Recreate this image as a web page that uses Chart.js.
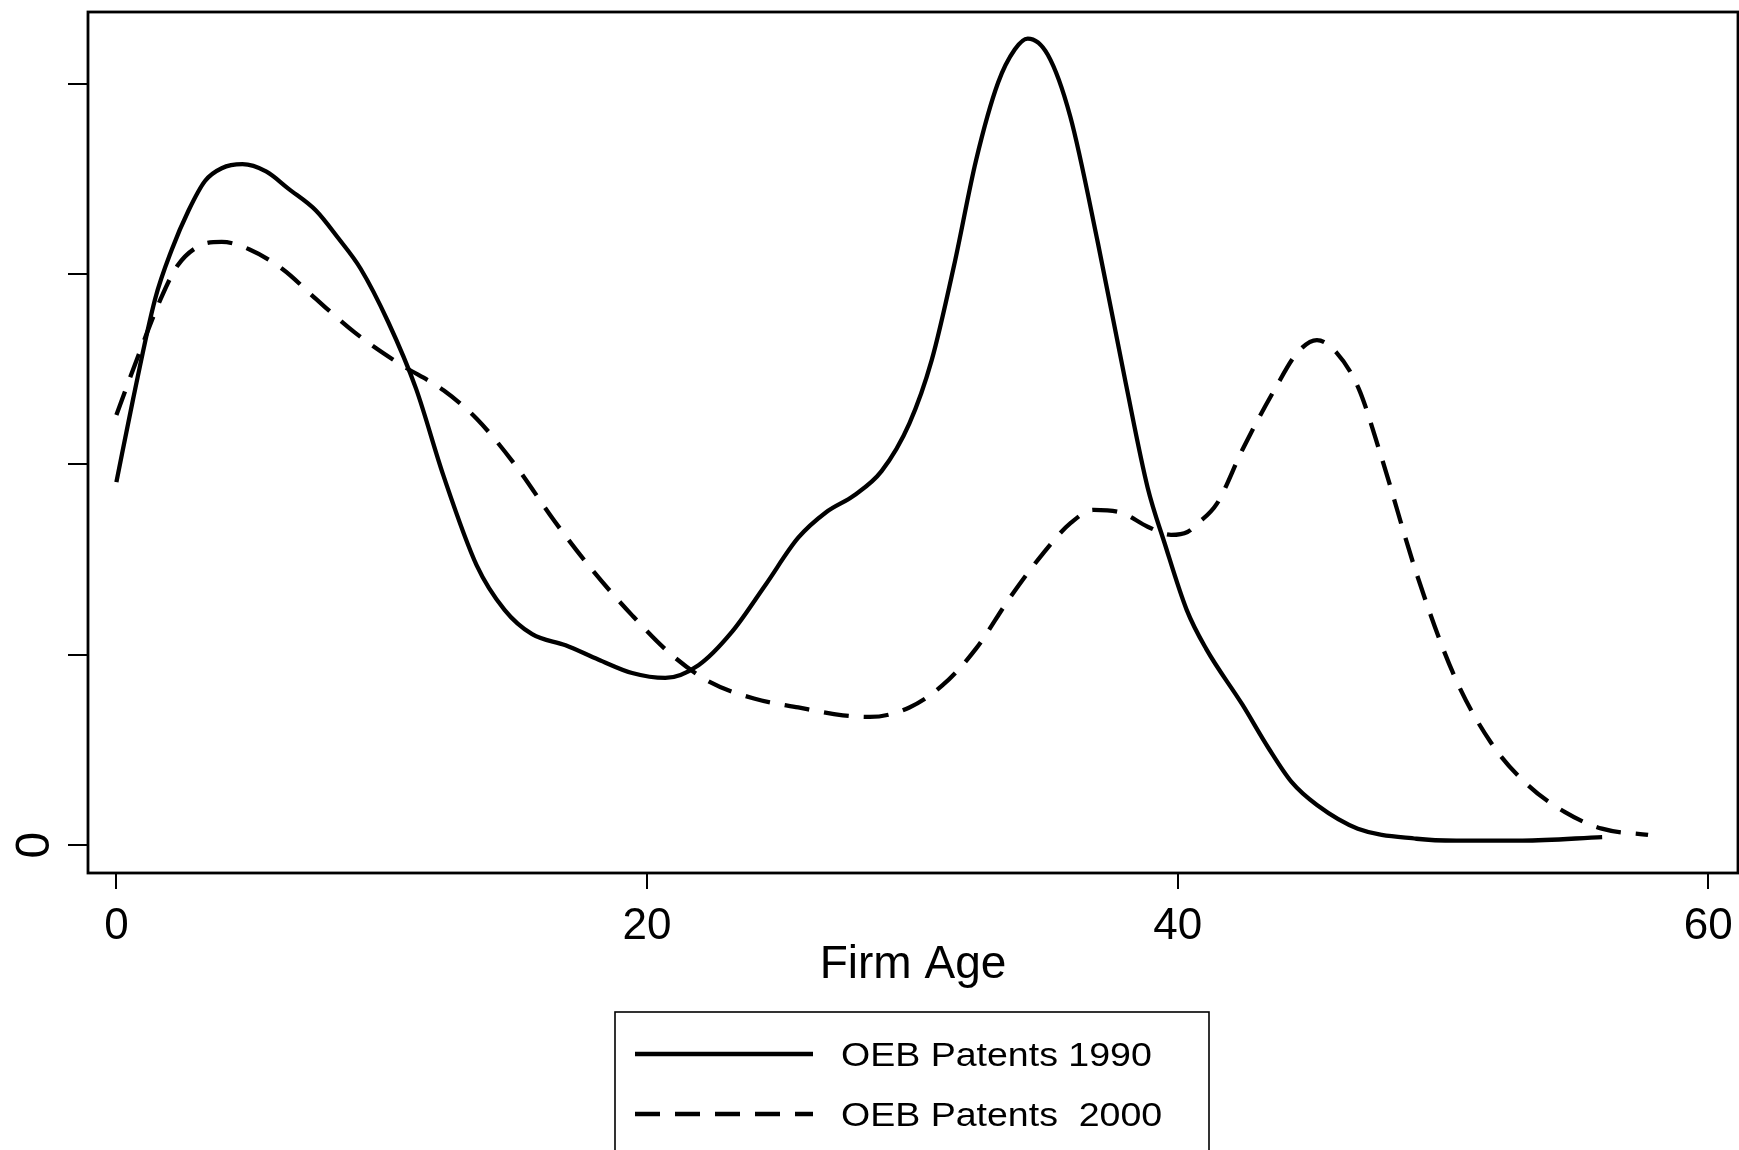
<!DOCTYPE html>
<html>
<head>
<meta charset="utf-8">
<script src="https://cdn.jsdelivr.net/npm/chart.js@4"></script>
<style>
html,body{margin:0;padding:0;background:#ffffff;}
#wrap{width:1739px;height:1150px;position:relative;}
</style>
</head>
<body>
<div id="wrap"><canvas id="c"></canvas></div>
<script>
// ---- data ----
const ages1990 = [0, 0.63, 1.46, 2.09, 2.72, 3.34, 3.97, 4.75, 5.64, 6.48, 7.52, 8.36, 9.2, 10.24, 11.29, 12.33, 13.58, 14.63, 15.67, 16.93, 18.18, 19.44, 20.69, 21.94, 23.2, 24.45, 25.7, 26.75, 27.8, 28.84, 29.89, 30.73, 31.57, 32.4, 33.23, 33.86, 34.35, 35.11, 35.95, 37.0, 38.04, 38.87, 39.5, 40.34, 41.07, 42.43, 43.44, 44.3, 45.25, 46.79, 49.0, 50.5, 53.0, 56.0];
const density1990 = [1.907, 2.344, 2.87, 3.13, 3.335, 3.49, 3.557, 3.578, 3.54, 3.45, 3.335, 3.19, 3.03, 2.75, 2.40, 1.94, 1.47, 1.236, 1.108, 1.05, 0.974, 0.904, 0.878, 0.945, 1.12, 1.364, 1.615, 1.749, 1.837, 1.965, 2.216, 2.548, 3.044, 3.598, 4.006, 4.181, 4.238, 4.152, 3.83, 3.16, 2.43, 1.878, 1.59, 1.236, 1.032, 0.74, 0.506, 0.33, 0.21, 0.086, 0.033, 0.023, 0.023, 0.042];
const ages2000 = [0, 0.84, 1.67, 2.3, 3.13, 3.97, 5.02, 6.27, 7.52, 8.98, 10.66, 12.33, 13.58, 15.05, 16.51, 17.97, 19.44, 20.9, 22.36, 24.03, 25.7, 27.38, 28.4, 29.89, 31.14, 32.4, 33.65, 34.9, 35.95, 36.83, 37.83, 38.87, 39.75, 40.37, 40.76, 41.48, 42.46, 43.68, 44.52, 45.25, 45.98, 46.82, 47.62, 49.02, 50.41, 51.8, 53.2, 54.6, 55.99, 57.73];
const density2000 = [2.26, 2.577, 2.87, 3.044, 3.149, 3.17, 3.13, 3.026, 2.87, 2.694, 2.53, 2.39, 2.24, 1.994, 1.703, 1.44, 1.207, 1.003, 0.857, 0.77, 0.723, 0.682, 0.673, 0.723, 0.84, 1.032, 1.294, 1.528, 1.69, 1.761, 1.749, 1.673, 1.63, 1.645, 1.69, 1.794, 2.083, 2.40, 2.589, 2.654, 2.589, 2.40, 2.066, 1.42, 0.894, 0.54, 0.315, 0.173, 0.086, 0.053];
const seriesLabels = ["OEB Patents 1990", "OEB Patents  2000"];
const xTickValues = [0, 20, 40, 60];
const xTickLabels = ["0", "20", "40", "60"];
const yTickValues = [0, 1, 2, 3, 4];
const yTickLabels = ["0", "", "", "", ""];
const xAxisTitle = "Firm Age";

const FONT = '"Liberation Sans", Arial, Helvetica, sans-serif';

function toPoints(xs, ys) { return xs.map((x, i) => ({ x: x, y: ys[i] })); }

const framePlugin = {
  id: 'frame',
  afterDraw(chart) {
    const { ctx, chartArea: a } = chart;
    ctx.save();
    ctx.strokeStyle = '#000';
    ctx.lineWidth = 2.8;
    ctx.strokeRect(a.left, a.top, a.right - a.left, a.bottom - a.top);
    ctx.restore();
  }
};

const boxLegendPlugin = {
  id: 'boxLegend',
  afterDraw(chart) {
    const ctx = chart.ctx;
    const box = { x: 615, y: 1012, w: 594, h: 220 };
    const rows = [1054, 1114];
    ctx.save();
    ctx.strokeStyle = '#000';
    ctx.lineWidth = 1.6;
    ctx.strokeRect(box.x, box.y, box.w, box.h);
    chart.data.datasets.forEach((ds, i) => {
      const y = rows[i];
      ctx.save();
      ctx.strokeStyle = ds.borderColor;
      ctx.lineWidth = ds.borderWidth;
      ctx.setLineDash(ds.borderDash || []);
      ctx.beginPath();
      ctx.moveTo(635, y);
      ctx.lineTo(813, y);
      ctx.stroke();
      ctx.restore();
      ctx.save();
      ctx.fillStyle = '#000';
      ctx.font = '33.5px ' + FONT;
      ctx.textBaseline = 'middle';
      ctx.textAlign = 'left';
      ctx.translate(841, y + 2.5);
      ctx.scale(1.12, 1);
      ctx.fillText(ds.label, 0, 0);
      ctx.restore();
    });
    ctx.restore();
  }
};

new Chart(document.getElementById('c'), {
  type: 'line',
  data: {
    datasets: [
      {
        label: seriesLabels[0],
        data: toPoints(ages1990, density1990),
        borderColor: '#000',
        borderWidth: 4.3,
        pointRadius: 0,
        fill: false,
        cubicInterpolationMode: 'monotone'
      },
      {
        label: seriesLabels[1],
        data: toPoints(ages2000, density2000),
        borderColor: '#000',
        borderWidth: 4.3,
        borderDash: [25, 15],
        pointRadius: 0,
        fill: false,
        cubicInterpolationMode: 'monotone'
      }
    ]
  },
  options: {
    responsive: true,
    maintainAspectRatio: false,
    animation: false,
    layout: { padding: { top: 12, right: 1, left: 0, bottom: 0 } },
    plugins: { legend: { display: false }, tooltip: { enabled: false } },
    scales: {
      x: {
        type: 'linear',
        min: -1.07,
        max: 61.12,
        border: { display: false },
        grid: { display: true, drawOnChartArea: false, drawTicks: true, tickLength: 16, color: '#000', lineWidth: 2 },
        afterBuildTicks(scale) { scale.ticks = xTickValues.map(v => ({ value: v })); },
        ticks: {
          color: '#000',
          font: { family: FONT, size: 44 },
          padding: 11,
          maxRotation: 0,
          autoSkip: false,
          callback(value, index) { return xTickLabels[index]; }
        },
        title: {
          display: true,
          text: xAxisTitle,
          color: '#000',
          font: { family: FONT, size: 46 },
          padding: { top: 0, bottom: 157 }
        },
        afterFit(scale) {
          scale.height = 277;
          scale.paddingLeft = 0; scale.paddingRight = 0;
        }
      },
      y: {
        type: 'linear',
        min: -0.147,
        max: 4.378,
        border: { display: false },
        grid: { display: true, drawOnChartArea: false, drawTicks: true, tickLength: 20, color: '#000', lineWidth: 2 },
        afterBuildTicks(scale) { scale.ticks = yTickValues.map(v => ({ value: v })); },
        ticks: {
          color: '#000',
          font: { family: FONT, size: 48 },
          padding: 19,
          minRotation: 90,
          maxRotation: 90,
          crossAlign: 'center',
          autoSkip: false,
          callback(value, index) { return yTickLabels[index]; }
        },
        afterFit(scale) {
          scale.width = 88;
          scale.paddingTop = 0; scale.paddingBottom = 0;
        }
      }
    }
  },
  plugins: [framePlugin, boxLegendPlugin]
});
</script>
</body>
</html>
